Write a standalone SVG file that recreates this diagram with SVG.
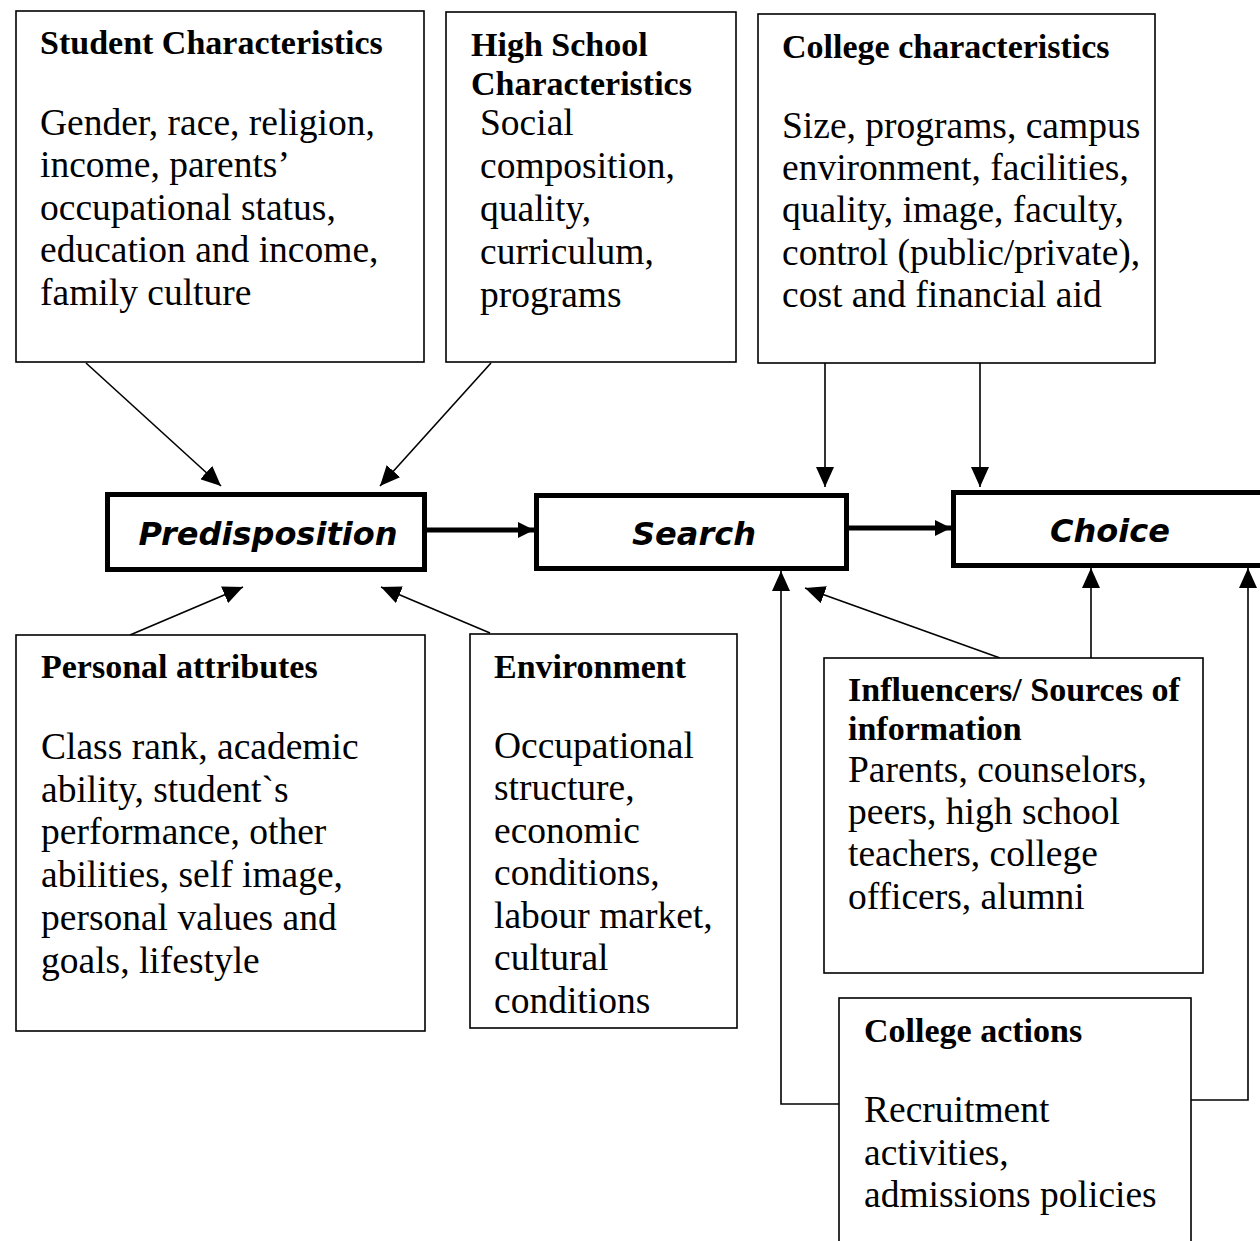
<svg xmlns="http://www.w3.org/2000/svg" width="1260" height="1241" viewBox="0 0 1260 1241">
  <style>
    .box { fill: #fff; stroke: #000; stroke-width: 1.6; }
    .stage { fill: #fff; stroke: #000; stroke-width: 5; }
    .title { font-family: "Liberation Serif", "Times New Roman", serif; font-weight: bold; font-size: 34px; fill: #000; }
    .body { font-family: "Liberation Serif", "Times New Roman", serif; font-size: 37.5px; fill: #000; }
    .label { font-family: "DejaVu Sans", Verdana, sans-serif; font-weight: bold; font-style: italic; font-size: 32px; fill: #000; text-anchor: middle; }
    .thin { fill: none; stroke: #000; stroke-width: 1.6; }
    .thick { fill: none; stroke: #000; stroke-width: 5; }
  </style>
  <defs>
    <marker id="head" markerUnits="userSpaceOnUse" markerWidth="20" markerHeight="18" refX="20" refY="9" orient="auto">
      <path d="M0,0 L20,9 L0,18 Z" fill="#000"/>
    </marker>
    <marker id="headThick" markerUnits="userSpaceOnUse" markerWidth="16" markerHeight="16" refX="16" refY="8" orient="auto">
      <path d="M0,0 L16,8 L0,16 Z" fill="#000"/>
    </marker>
  </defs>

  <rect width="1260" height="1241" fill="#fff"/>

  <!-- connectors -->
  <g id="connectors">
    <line class="thin" x1="86" y1="363" x2="221" y2="486" marker-end="url(#head)"/>
    <line class="thin" x1="491" y1="363" x2="380" y2="486" marker-end="url(#head)"/>
    <line class="thin" x1="825" y1="363" x2="825" y2="487" marker-end="url(#head)"/>
    <line class="thin" x1="980" y1="363" x2="980" y2="487" marker-end="url(#head)"/>
    <line class="thick" x1="427" y1="530" x2="534" y2="530" marker-end="url(#headThick)"/>
    <line class="thick" x1="849" y1="528" x2="951" y2="528" marker-end="url(#headThick)"/>
    <line class="thin" x1="130" y1="635" x2="243" y2="587" marker-end="url(#head)"/>
    <line class="thin" x1="490" y1="633" x2="381" y2="587" marker-end="url(#head)"/>
    <line class="thin" x1="1000" y1="658" x2="805" y2="588" marker-end="url(#head)"/>
    <line class="thin" x1="1091" y1="658" x2="1091" y2="568" marker-end="url(#head)"/>
    <polyline class="thin" points="839,1104 781,1104 781,571" marker-end="url(#head)"/>
    <polyline class="thin" points="1191,1100 1248,1100 1248,568" marker-end="url(#head)"/>
  </g>

  <!-- stage boxes -->
  <g id="predisposition">
    <rect class="stage" x="107.5" y="494.5" width="317" height="75"/>
    <text class="label" x="268" y="545">Predisposition</text>
  </g>
  <g id="search">
    <rect class="stage" x="536.5" y="495.5" width="310" height="73"/>
    <text class="label" x="694" y="545">Search</text>
  </g>
  <g id="choice">
    <rect class="stage" x="953.5" y="492.5" width="330" height="73"/>
    <text class="label" x="1110" y="542">Choice</text>
  </g>

  <!-- factor boxes -->
  <g id="student-characteristics">
    <rect class="box" x="16" y="11" width="408" height="351"/>
    <text class="title" x="40" y="54">Student Characteristics</text>
    <text class="body" x="40" y="135">Gender, race, religion,</text>
    <text class="body" x="40" y="177">income, parents’</text>
    <text class="body" x="40" y="220">occupational status,</text>
    <text class="body" x="40" y="262">education and income,</text>
    <text class="body" x="40" y="305">family culture</text>
  </g>

  <g id="high-school-characteristics">
    <rect class="box" x="446" y="12" width="290" height="350"/>
    <text class="title" x="471" y="56">High School</text>
    <text class="title" x="471" y="95">Characteristics</text>
    <text class="body" x="480" y="135">Social</text>
    <text class="body" x="480" y="178">composition,</text>
    <text class="body" x="480" y="221">quality,</text>
    <text class="body" x="480" y="264">curriculum,</text>
    <text class="body" x="480" y="307">programs</text>
  </g>

  <g id="college-characteristics">
    <rect class="box" x="758" y="14" width="397" height="349"/>
    <text class="title" x="782" y="58">College characteristics</text>
    <text class="body" x="782" y="138">Size, programs, campus</text>
    <text class="body" x="782" y="180">environment, facilities,</text>
    <text class="body" x="782" y="222">quality, image, faculty,</text>
    <text class="body" x="782" y="265">control (public/private),</text>
    <text class="body" x="782" y="307">cost and financial aid</text>
  </g>

  <g id="personal-attributes">
    <rect class="box" x="16" y="635" width="409" height="396"/>
    <text class="title" x="41" y="678">Personal attributes</text>
    <text class="body" x="41" y="759">Class rank, academic</text>
    <text class="body" x="41" y="802">ability, student`s</text>
    <text class="body" x="41" y="844">performance, other</text>
    <text class="body" x="41" y="887">abilities, self image,</text>
    <text class="body" x="41" y="930">personal values and</text>
    <text class="body" x="41" y="973">goals, lifestyle</text>
  </g>

  <g id="environment">
    <rect class="box" x="470" y="634" width="267" height="394"/>
    <text class="title" x="494" y="678">Environment</text>
    <text class="body" x="494" y="758">Occupational</text>
    <text class="body" x="494" y="800">structure,</text>
    <text class="body" x="494" y="843">economic</text>
    <text class="body" x="494" y="885">conditions,</text>
    <text class="body" x="494" y="928">labour market,</text>
    <text class="body" x="494" y="970">cultural</text>
    <text class="body" x="494" y="1013">conditions</text>
  </g>

  <g id="influencers">
    <rect class="box" x="824" y="658" width="379" height="315"/>
    <text class="title" x="848" y="701">Influencers/ Sources of</text>
    <text class="title" x="848" y="740">information</text>
    <text class="body" x="848" y="782">Parents, counselors,</text>
    <text class="body" x="848" y="824">peers, high school</text>
    <text class="body" x="848" y="866">teachers, college</text>
    <text class="body" x="848" y="909">officers, alumni</text>
  </g>

  <g id="college-actions">
    <rect class="box" x="839" y="998" width="352" height="260"/>
    <text class="title" x="864" y="1042">College actions</text>
    <text class="body" x="864" y="1122">Recruitment</text>
    <text class="body" x="864" y="1165">activities,</text>
    <text class="body" x="864" y="1207">admissions policies</text>
  </g>
</svg>
